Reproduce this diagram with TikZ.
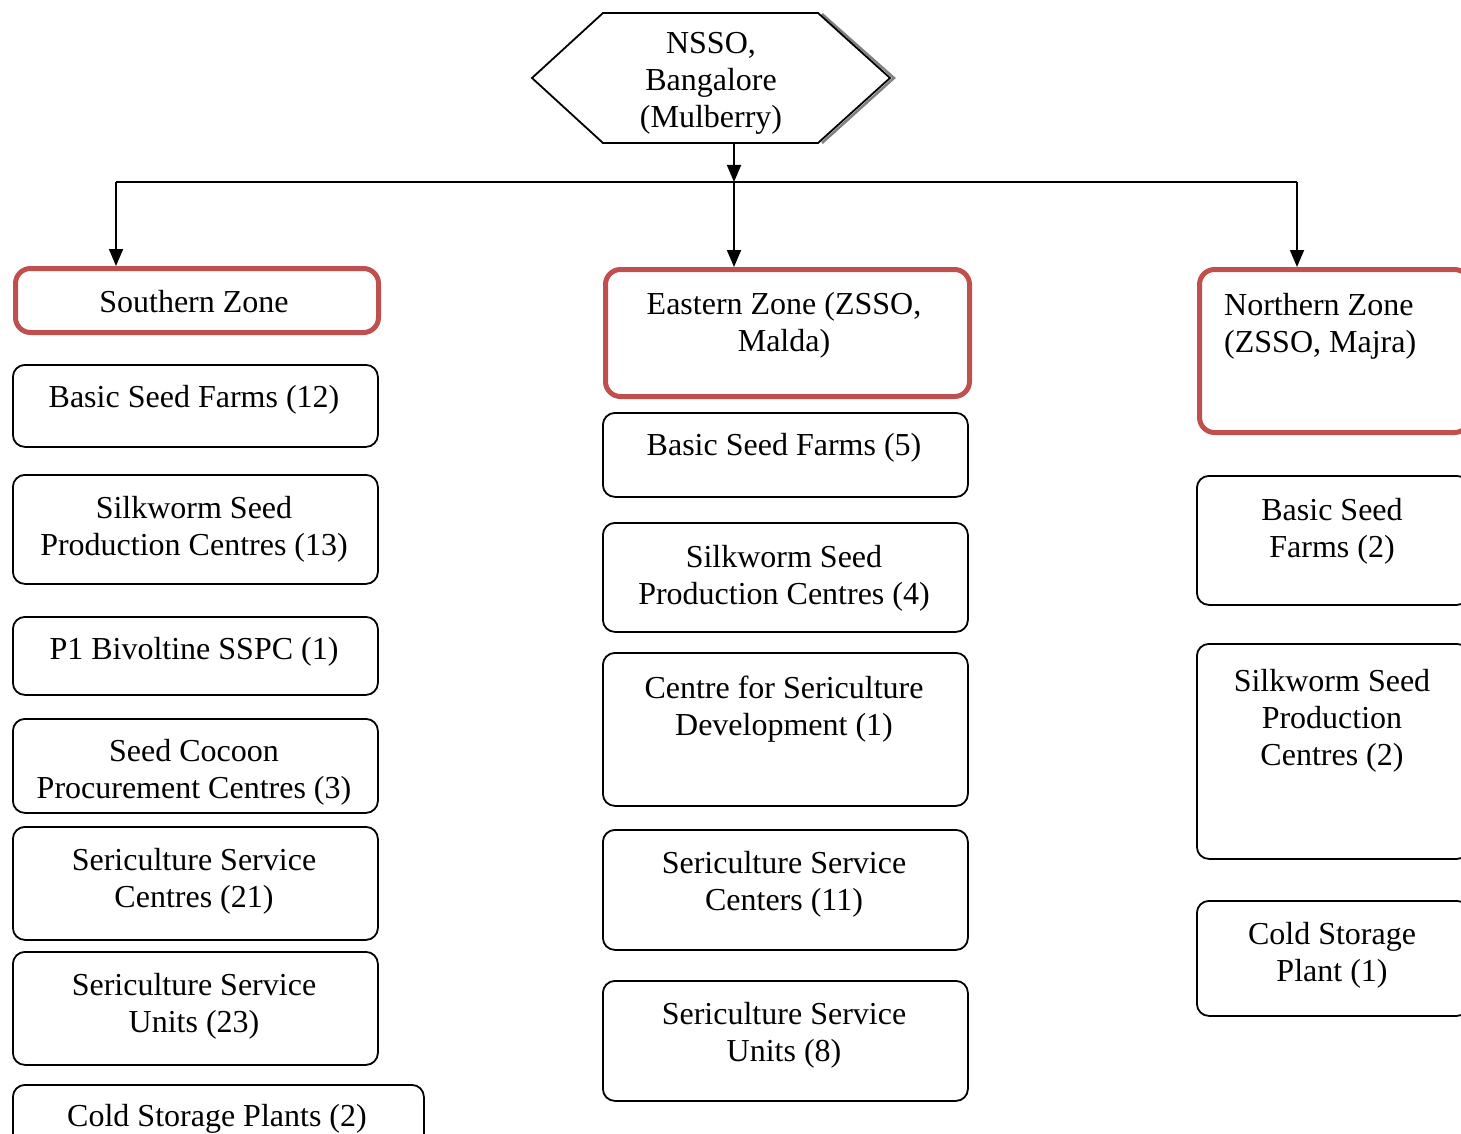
\documentclass[tikz,border=0pt]{standalone}
\usepackage{fontspec}
\setmainfont{Liberation Serif}
\usetikzlibrary{arrows.meta,positioning}
\definecolor{zonered}{HTML}{C0504D}
\tikzset{
  unitbox/.style={draw=black, line width=1.8pt, rounded corners=12pt, anchor=north west, inner sep=0pt},
  zonebox/.style={draw=zonered, line width=5pt, rounded corners=15pt, anchor=north west, inner sep=0pt},
  txt/.style={font=\fontsize{32}{37}\selectfont, align=center, anchor=base, inner sep=0pt},
  arrow/.style={-{Triangle[length=17pt,width=14pt]}, line width=1.8pt}
}
\begin{document}
\begin{tikzpicture}[x=1pt,y=-1pt]
\useasboundingbox (0,0) rectangle (1461,1134);
% head office
\draw[black!50, line width=2.5pt] (822,14) -- (894,78) -- (822,143);
\draw[fill=white, line width=1.8pt] (532,78) -- (603,13) -- (818,13) -- (890,78) -- (818,143) -- (603,143) -- cycle;
\node[txt] (nsso) at (711,128) {NSSO,\\Bangalore\\(Mulberry)};
\coordinate (hexs) at (734,143);
\coordinate (bus) at (734,182);
% zones
\node[zonebox, minimum width=363pt, minimum height=64pt] (south) at (13,266) {};
\node[txt] (south-t) at (194,312) {Southern Zone};
\node[zonebox, minimum width=364pt, minimum height=127pt] (east) at (603,267) {};
\node[txt] (east-t) at (784,351) {Eastern Zone (ZSSO,\\Malda)};
\node[zonebox, minimum width=270pt, minimum height=163pt] (north) at (1197,267) {};
\node[txt, align=left, anchor=base west] (north-t) at (1224,352) {Northern Zone\\(ZSSO, Majra)};
% connectors
\coordinate (sbus) at (116,182);
\coordinate (nbus) at (1297,182);
\draw[arrow] (hexs) -- (bus);
\draw[line width=1.8pt] (sbus) -- (nbus);
\draw[arrow] (sbus) -- (sbus |- south.north);
\draw[arrow] (bus) -- (bus |- east.north);
\draw[arrow] (nbus) -- (nbus |- north.north);
% southern column
\node[unitbox, minimum width=365pt, minimum height=82pt] (s1) at (12,364) {};
\node[txt] (s1-t) at (194,407) {Basic Seed Farms (12)};
\node[unitbox, minimum width=365pt, minimum height=109pt] (s2) at (12,474) {};
\node[txt] (s2-t) at (194,555) {Silkworm Seed\\Production Centres (13)};
\node[unitbox, minimum width=365pt, minimum height=78pt] (s3) at (12,616) {};
\node[txt] (s3-t) at (194,659) {P1 Bivoltine SSPC (1)};
\node[unitbox, minimum width=365pt, minimum height=94pt] (s4) at (12,718) {};
\node[txt] (s4-t) at (194,798) {Seed Cocoon\\Procurement Centres (3)};
\node[unitbox, minimum width=365pt, minimum height=113pt] (s5) at (12,826) {};
\node[txt] (s5-t) at (194,907) {Sericulture Service\\Centres (21)};
\node[unitbox, minimum width=365pt, minimum height=113pt] (s6) at (12,951) {};
\node[txt] (s6-t) at (194,1032) {Sericulture Service\\Units (23)};
\node[unitbox, minimum width=411pt, minimum height=90pt] (s7) at (12,1084) {};
\node[txt] (s7-t) at (217,1126) {Cold Storage Plants (2)};
% eastern column
\node[unitbox, minimum width=365pt, minimum height=84pt] (e1) at (602,412) {};
\node[txt] (e1-t) at (784,455) {Basic Seed Farms (5)};
\node[unitbox, minimum width=365pt, minimum height=109pt] (e2) at (602,522) {};
\node[txt] (e2-t) at (784,604) {Silkworm Seed\\Production Centres (4)};
\node[unitbox, minimum width=365pt, minimum height=153pt] (e3) at (602,652) {};
\node[txt] (e3-t) at (784,735) {Centre for Sericulture\\Development (1)};
\node[unitbox, minimum width=365pt, minimum height=120pt] (e4) at (602,829) {};
\node[txt] (e4-t) at (784,910) {Sericulture Service\\Centers (11)};
\node[unitbox, minimum width=365pt, minimum height=120pt] (e5) at (602,980) {};
\node[txt] (e5-t) at (784,1061) {Sericulture Service\\Units (8)};
% northern column
\node[unitbox, minimum width=272pt, minimum height=129pt] (n1) at (1196,475) {};
\node[txt] (n1-t) at (1332,557) {Basic Seed\\Farms (2)};
\node[unitbox, minimum width=272pt, minimum height=215pt] (n2) at (1196,643) {};
\node[txt] (n2-t) at (1332,765) {Silkworm Seed\\Production\\Centres (2)};
\node[unitbox, minimum width=272pt, minimum height=115pt] (n3) at (1196,900) {};
\node[txt] (n3-t) at (1332,981) {Cold Storage\\Plant (1)};
\end{tikzpicture}
\end{document}
